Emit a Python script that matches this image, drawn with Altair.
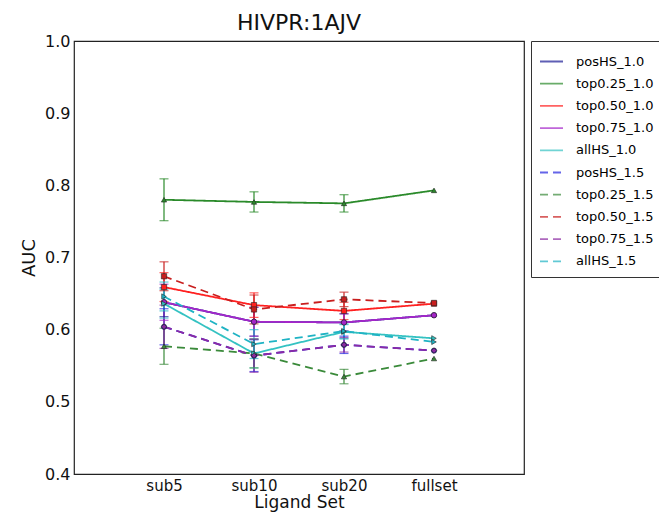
import altair as alt
import pandas as pd

categories = ["sub5", "sub10", "sub20", "fullset"]

series_names = ["posHS_1.0", "top0.25_1.0", "top0.50_1.0", "top0.75_1.0", "allHS_1.0",
                "posHS_1.5", "top0.25_1.5", "top0.50_1.5", "top0.75_1.5", "allHS_1.5"]

posHS_10 = [0.638, 0.611, 0.610, 0.620]
top025_10 = [0.780, 0.777, 0.775, 0.793]
top050_10 = [0.659, 0.634, 0.626, 0.636]
top075_10 = [0.638, 0.611, 0.610, 0.620]
allHS_10 = [0.636, 0.567, 0.597, 0.588]
posHS_15 = [0.604, 0.564, 0.579, 0.571]
top025_15 = [0.577, 0.567, 0.535, 0.560]
top050_15 = [0.674, 0.628, 0.642, 0.637]
top075_15 = [0.604, 0.564, 0.579, 0.571]
allHS_15 = [0.646, 0.580, 0.598, 0.583]

err_posHS_10 = [0.020, 0.020, 0.012, None]
err_top025_10 = [0.029, 0.014, 0.012, None]
err_top050_10 = [0.020, 0.017, 0.012, None]
err_top075_10 = [0.025, 0.020, 0.012, None]
err_allHS_10 = [0.020, 0.020, 0.010, None]
err_posHS_15 = [0.025, 0.022, 0.012, None]
err_top025_15 = [0.025, 0.020, 0.010, None]
err_top050_15 = [0.020, 0.020, 0.010, None]
err_top075_15 = [0.030, 0.023, 0.010, None]
err_allHS_15 = [0.020, 0.020, 0.010, None]

colors = ["#1c1c96", "#2a8a2a", "#ff2020", "#a526c9", "#34c2c2",
          "#2424e0", "#3a8a3a", "#c81e1e", "#8c2aa3", "#1fb3c4"]
dashes = [[1, 0]] * 5 + [[8, 5]] * 5
shapes = ["circle", "triangle-up", "square", "circle", "triangle-right",
          "circle", "triangle-up", "square", "diamond", "triangle-right"]

values = [posHS_10, top025_10, top050_10, top075_10, allHS_10,
          posHS_15, top025_15, top050_15, top075_15, allHS_15]
errors = [err_posHS_10, err_top025_10, err_top050_10, err_top075_10, err_allHS_10,
          err_posHS_15, err_top025_15, err_top050_15, err_top075_15, err_allHS_15]

rows = []
for name, vals, errs in zip(series_names, values, errors):
    for cat, v, e in zip(categories, vals, errs):
        rows.append({"series": name, "set": cat, "auc": v,
                     "lo": (v - e) if e is not None else None,
                     "hi": (v + e) if e is not None else None})
df = pd.DataFrame(rows)
df_err = df.dropna(subset=["lo"])

FONT = "DejaVu Sans"

x_enc = alt.X("set:N", sort=categories, scale=alt.Scale(type="point", padding=1),
              axis=alt.Axis(title="Ligand Set", labelAngle=0))
y_scale = alt.Scale(domain=[0.4, 1.0], nice=False, zero=False)
y_axis = alt.Axis(title="AUC", values=[0.4, 0.5, 0.6, 0.7, 0.8, 0.9, 1.0], format=".1f")

color_scale = alt.Scale(domain=series_names, range=colors)
dash_scale = alt.Scale(domain=series_names, range=dashes)

legend = alt.Legend(title=None, orient="none", legendX=457, legendY=0,
                    symbolType="stroke", symbolSize=529,
                    symbolStrokeWidth=1.8, rowPadding=2.2,
                    labelFontSize=13, labelFont=FONT, labelLimit=200,
                    strokeColor="#333", padding=8, labelOffset=12,
                    fillColor="white")

base = alt.Chart(df)

err_rule = alt.Chart(df_err).mark_rule(strokeWidth=1.2).encode(
    x=x_enc,
    y=alt.Y("lo:Q", scale=y_scale, axis=y_axis),
    y2="hi:Q",
    color=alt.Color("series:N", scale=color_scale, sort=series_names),
)
cap_lo = alt.Chart(df_err).mark_tick(orient="horizontal", size=9, thickness=1.2).encode(
    x=x_enc,
    y=alt.Y("lo:Q", scale=y_scale),
    color=alt.Color("series:N", scale=color_scale, sort=series_names),
)
cap_hi = alt.Chart(df_err).mark_tick(orient="horizontal", size=9, thickness=1.2).encode(
    x=x_enc,
    y=alt.Y("hi:Q", scale=y_scale),
    color=alt.Color("series:N", scale=color_scale, sort=series_names),
)

lines = base.mark_line(strokeWidth=1.8).encode(
    x=x_enc,
    y=alt.Y("auc:Q", scale=y_scale, axis=y_axis),
    color=alt.Color("series:N", scale=color_scale, sort=series_names, legend=legend),
    strokeDash=alt.StrokeDash("series:N", scale=dash_scale, sort=series_names, legend=legend),
    detail="series:N",
)

point_layers = []
for shp in ["circle", "triangle-up", "square", "triangle-right", "diamond"]:
    members = [s for s, sh in zip(series_names, shapes) if sh == shp]
    point_layers.append(
        base.transform_filter(alt.FieldOneOfPredicate(field="series", oneOf=members))
        .mark_point(filled=True, shape=shp, size=28, stroke="#222", strokeWidth=0.6, opacity=1)
        .encode(
            x=x_enc,
            y=alt.Y("auc:Q", scale=y_scale),
            fill=alt.Fill("series:N", scale=color_scale, legend=None),
        )
    )

chart = alt.layer(err_rule, cap_lo, cap_hi, lines, *point_layers).properties(
    width=450, height=433,
    title=alt.TitleParams("HIVPR:1AJV", fontSize=22, fontWeight="normal", font=FONT,
                          offset=-2, color="#111"),
    padding={"left": 66, "top": 33, "right": 135, "bottom": 38},
    autosize=alt.AutoSizeParams(type="none"),
).configure_view(
    stroke="#222", strokeWidth=1.2
).configure_axis(
    grid=False, domain=False, ticks=False,
    labelFont=FONT, titleFont=FONT, labelFontSize=16, titleFontSize=18,
    labelColor="#111", titleColor="#111", titleFontWeight="normal",
    labelPadding=4,
).configure_axisY(
    titlePadding=6
).configure_axisX(
    titlePadding=1, labelFontSize=15, titleFontSize=17
)

chart.save("out.html", embed_options={"renderer": "svg", "actions": False})
